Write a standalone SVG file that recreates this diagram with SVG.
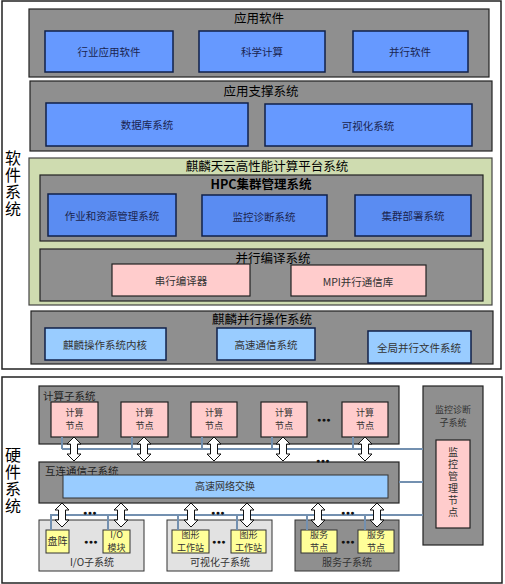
<svg xmlns="http://www.w3.org/2000/svg" width="505" height="584" viewBox="0 0 505 584">
<style>
text{font-family:"Noto Sans CJK SC","Liberation Sans",sans-serif;fill:#000;}
.frame{fill:#fff;stroke:#222;stroke-width:1.5;}
.gray{fill:#8f8f8f;stroke:#222;stroke-width:1.2;}
.green{fill:#cfdcb0;stroke:#444;stroke-width:1.2;}
.blue{fill:#6699ff;stroke:#10214a;stroke-width:1.5;}
.blue2{fill:#5a8cf2;stroke:#10214a;stroke-width:1.5;}
.lblue{fill:#99ccff;stroke:#10214a;stroke-width:1.5;}
.pink{fill:#ffcccc;stroke:#222;stroke-width:1.2;}
.lgray{fill:#e2e2e2;stroke:#333;stroke-width:1;}
.dgray{fill:#8f8f8f;stroke:#333;stroke-width:1;}
.yellow{fill:#ffff99;stroke:#333;stroke-width:1;}
.sky{fill:#99ccff;stroke:#333;stroke-width:1;}
.t{font-size:12.5px;text-anchor:middle;dominant-baseline:central;}
.tb{font-size:12.5px;text-anchor:middle;dominant-baseline:central;font-weight:bold;}
.in{font-size:10.5px;text-anchor:middle;dominant-baseline:central;fill:#1a2550;}
.in2{font-size:10.5px;text-anchor:middle;dominant-baseline:central;fill:#333;}
.hw{font-size:10px;text-anchor:middle;fill:#333;}
.hw2{font-size:9px;text-anchor:middle;fill:#333;}
.hl{font-size:10.5px;dominant-baseline:central;fill:#222;}
.side{font-size:16px;writing-mode:tb;glyph-orientation-vertical:0;letter-spacing:1px;}
.vt{font-size:10px;writing-mode:tb;glyph-orientation-vertical:0;letter-spacing:2px;fill:#333;}
.dots{font-family:"Liberation Sans",sans-serif;font-size:7px;text-anchor:middle;dominant-baseline:central;fill:#111;letter-spacing:0.5px;}
.link{stroke:#7390b0;stroke-width:2;fill:none;}
.arr{fill:#fff;stroke:#111;stroke-width:1;}
</style>
<defs>
<path id="dbl" d="M0,0 L7,7 L3.5,7 L3.5,17 L7,17 L0,24 L-7,17 L-3.5,17 L-3.5,7 L-7,7 Z"/>
</defs>

<!-- Software system frame -->
<g id="software">
<rect class="frame" x="2" y="1" width="499" height="368"/>
<text class="side" x="13" y="150">软件系统</text>
</g>

<g id="app-software">
<rect class="gray" x="29" y="9" width="460" height="68"/>
<text class="t" x="259" y="17">应用软件</text>
<rect class="blue" x="45" y="31" width="128" height="41"/>
<text class="in" x="109" y="51">行业应用软件</text>
<rect class="blue" x="199" y="31" width="126" height="41"/>
<text class="in" x="262" y="51">科学计算</text>
<rect class="blue" x="353" y="31" width="115" height="41"/>
<text class="in" x="410" y="51">并行软件</text>
</g>

<g id="app-support">
<rect class="gray" x="30" y="81" width="462" height="70"/>
<text class="t" x="261" y="90">应用支撑系统</text>
<rect class="blue" x="46" y="103" width="202" height="43"/>
<text class="in" x="147" y="124">数据库系统</text>
<rect class="blue" x="265" y="104" width="207" height="42"/>
<text class="in" x="368" y="125">可视化系统</text>
</g>

<g id="platform">
<rect class="green" x="29" y="158" width="463" height="147"/>
<text class="t" x="267" y="165">麒麟天云高性能计算平台系统</text>
</g>

<g id="hpc">
<rect class="gray" x="40" y="175" width="443" height="66"/>
<text class="tb" x="261" y="183">HPC集群管理系统</text>
<rect class="blue2" x="48" y="194" width="128" height="42"/>
<text class="in" x="112" y="215">作业和资源管理系统</text>
<rect class="blue2" x="202" y="195" width="125" height="41"/>
<text class="in" x="264" y="216">监控诊断系统</text>
<rect class="blue2" x="355" y="195" width="116" height="41"/>
<text class="in" x="413" y="215">集群部署系统</text>
</g>

<g id="compiler">
<rect class="gray" x="40" y="249" width="443" height="52"/>
<text class="t" x="273" y="257">并行编译系统</text>
<rect class="pink" x="112" y="264" width="138" height="32"/>
<text class="in2" x="181" y="280">串行编译器</text>
<rect class="pink" x="291" y="265" width="135" height="31"/>
<text class="in2" x="358" y="281">MPI并行通信库</text>
</g>

<g id="os">
<rect class="gray" x="31" y="311" width="462" height="53"/>
<text class="t" x="262" y="318">麒麟并行操作系统</text>
<rect class="lblue" x="45" y="328" width="121" height="32"/>
<text class="in2" x="105" y="344">麒麟操作系统内核</text>
<rect class="lblue" x="217" y="328" width="98" height="32"/>
<text class="in2" x="266" y="344">高速通信系统</text>
<rect class="lblue" x="368" y="331" width="103" height="32"/>
<text class="in2" x="419" y="347">全局并行文件系统</text>
</g>

<!-- Hardware system frame -->
<g id="hardware">
<rect class="frame" x="2" y="377" width="500" height="206"/>
<text class="side" x="13" y="447">硬件系统</text>
</g>

<g id="compute-subsystem">
<rect class="gray" x="39" y="386" width="360" height="58"/>
<text class="hl" x="43" y="395">计算子系统</text>
<rect class="pink" x="51" y="402" width="47" height="35"/>
<text class="hw2" x="74.5" y="416">计算<tspan x="74.5" dy="13">节点</tspan></text>
<rect class="pink" x="121" y="402" width="47" height="35"/>
<text class="hw2" x="144.5" y="416">计算<tspan x="144.5" dy="13">节点</tspan></text>
<rect class="pink" x="191" y="402" width="46" height="35"/>
<text class="hw2" x="214" y="416">计算<tspan x="214" dy="13">节点</tspan></text>
<rect class="pink" x="261" y="402" width="46" height="35"/>
<text class="hw2" x="284" y="416">计算<tspan x="284" dy="13">节点</tspan></text>
<text class="dots" x="324" y="419">●●●</text>
<rect class="pink" x="342" y="402" width="46" height="35"/>
<text class="hw2" x="365" y="416">计算<tspan x="365" dy="13">节点</tspan></text>
</g>

<g id="monitor-subsystem">
<rect class="gray" x="423" y="386" width="60" height="159"/>
<text class="hw2" x="453" y="413">监控诊断<tspan x="453" dy="13">子系统</tspan></text>
<rect class="pink" x="436" y="440" width="34" height="88"/>
<text class="vt" x="453" y="447">监控管理节点</text>
</g>

<g id="interconnect">
<rect class="gray" x="39" y="462" width="360" height="41"/>
<text class="hl" x="45" y="470">互连通信子系统</text>
<rect class="sky" x="63" y="475" width="325" height="23"/>
<text class="hw" x="225" y="490">高速网络交换</text>
</g>

<g id="io-subsystem">
<rect class="lgray" x="39" y="520" width="105" height="51"/>
<text class="hw" x="92" y="566">I/O子系统</text>
<rect class="yellow" x="46" y="530" width="23" height="23"/>
<text class="hw" x="57.5" y="545">盘阵</text>
<text class="dots" x="91" y="541">●●●</text>
<rect class="yellow" x="103" y="530" width="27" height="23"/>
<text class="hw2" x="116.5" y="538">I/O<tspan x="116.5" dy="13">模块</tspan></text>
</g>

<g id="vis-subsystem">
<rect class="lgray" x="167" y="520" width="105" height="51"/>
<text class="hw" x="220" y="566">可视化子系统</text>
<rect class="yellow" x="172" y="530" width="37" height="23"/>
<text class="hw2" x="190.5" y="538">图形<tspan x="190.5" dy="13">工作站</tspan></text>
<text class="dots" x="219" y="541">●●●</text>
<rect class="yellow" x="231" y="530" width="35" height="23"/>
<text class="hw2" x="248.5" y="538">图形<tspan x="248.5" dy="13">工作站</tspan></text>
</g>

<g id="service-subsystem">
<rect class="dgray" x="295" y="520" width="104" height="51"/>
<text class="hw" x="347" y="566">服务子系统</text>
<rect class="yellow" x="301" y="530" width="36" height="23"/>
<text class="hw2" x="319" y="538">服务<tspan x="319" dy="13">节点</tspan></text>
<text class="dots" x="348" y="541">●●●</text>
<rect class="yellow" x="358" y="530" width="36" height="23"/>
<text class="hw2" x="376" y="538">服务<tspan x="376" dy="13">节点</tspan></text>
</g>

<g id="connectors">
<path class="link" d="M62,449 H423 M62,437 V449 M132,437 V449 M202,437 V449 M272,437 V449 M353,437 V449"/>
<path class="link" d="M399,482 H423"/>
<path class="link" d="M50,515 H423 M51,515 V530 M108,515 V530 M178,515 V530 M237,515 V530 M307,515 V530 M365,515 V530"/>
<use href="#dbl" class="arr" x="74" y="437"/>
<use href="#dbl" class="arr" x="144" y="437"/>
<use href="#dbl" class="arr" x="214" y="437"/>
<use href="#dbl" class="arr" x="283" y="437"/>
<use href="#dbl" class="arr" x="365" y="437"/>
<text class="dots" x="323" y="460">●●●</text>
<use href="#dbl" class="arr" x="62" y="503"/>
<use href="#dbl" class="arr" x="121" y="503"/>
<use href="#dbl" class="arr" x="191" y="503"/>
<use href="#dbl" class="arr" x="247" y="503"/>
<use href="#dbl" class="arr" x="318" y="503"/>
<use href="#dbl" class="arr" x="377" y="503"/>
<text class="dots" x="90" y="512">●●●</text>
<text class="dots" x="218" y="512">●●●</text>
<text class="dots" x="348" y="512">●●●</text>
</g>
</svg>
